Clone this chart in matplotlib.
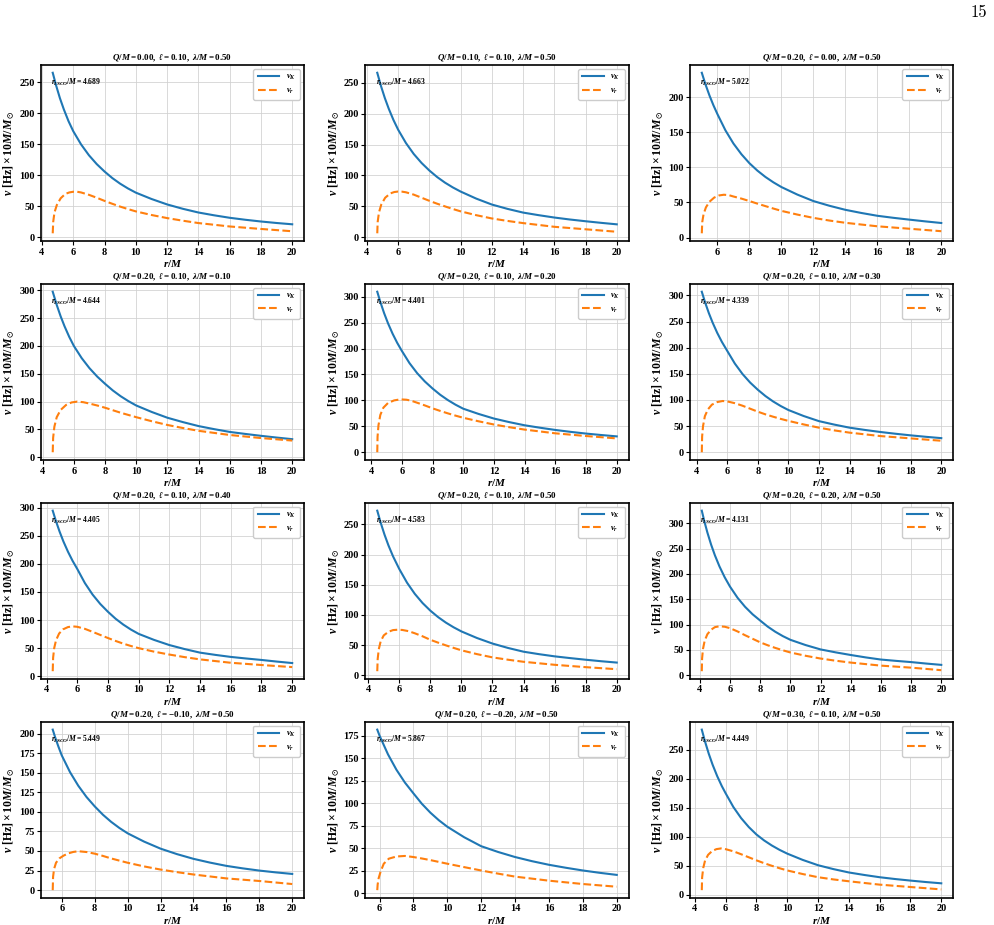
import matplotlib
matplotlib.use('Agg')
import matplotlib.pyplot as plt
from matplotlib.ticker import MultipleLocator

# panel parameters
Q_vals = [0.00, 0.10, 0.20, 0.20, 0.20, 0.20, 0.20, 0.20, 0.20, 0.20, 0.20, 0.30]
ell_vals = [0.10, 0.10, 0.00, 0.10, 0.10, 0.10, 0.10, 0.10, 0.20, -0.10, -0.20, 0.10]
lam_vals = [0.50, 0.50, 0.50, 0.10, 0.20, 0.30, 0.40, 0.50, 0.50, 0.50, 0.50, 0.50]
r_isco = [4.689, 4.663, 5.022, 4.644, 4.401, 4.339, 4.405, 4.583, 4.131, 5.449, 5.867, 4.449]

# Keplerian frequency nu_K
tail = [6, 6.5, 7, 7.5, 8, 8.5, 9, 9.5, 10, 11, 12, 13, 14, 15, 16, 17, 18, 19, 20]
r_kep = [
    [4.689, 4.9, 5.15, 5.4, 5.7] + tail,
    [4.663, 4.9, 5.15, 5.4, 5.7] + tail,
    [5.022, 5.25, 5.5, 5.75] + tail,
    [4.644, 4.9, 5.15, 5.4, 5.7] + tail,
    [4.401, 4.6, 4.85, 5.1, 5.4, 5.7] + tail,
    [4.339, 4.55, 4.8, 5.05, 5.35, 5.65] + tail,
    [4.405, 4.6, 4.85, 5.1, 5.4, 5.7] + tail,
    [4.583, 4.8, 5.05, 5.3, 5.6] + tail,
    [4.131, 4.3, 4.5, 4.75, 5.0, 5.3, 5.65] + tail,
    [5.449, 5.6, 5.8] + tail,
    [5.867] + tail,
    [4.449, 4.65, 4.9, 5.15, 5.45, 5.75] + tail,
]
nu_kep = [
    [265, 245, 224, 206, 187,
     171, 149.7, 132.3, 118, 106, 95.4, 86.4, 78.7, 72, 61.8, 53, 46, 40, 35.5, 31.5, 28.3, 25.5, 23.1, 21],
    [266, 244.7, 225, 207.8, 189.7,
     174, 152.4, 134.7, 120.2, 108, 97.4, 88.4, 80.7, 74, 62.6, 53, 46, 40, 35.8, 32, 28.8, 26, 23.4, 21],
    [235, 218.6, 202.7, 188.6,
     176, 152.9, 134.1, 118.8, 106, 95.4, 86.4, 78.7, 72, 61.2, 52, 45.3, 39.5, 35, 31, 28.1, 25.5, 23, 20.7],
    [297.5, 273.8, 253.4, 235.5, 216.5,
     200, 178.2, 160.1, 144.9, 132, 120, 109.7, 100.8, 93, 81.3, 71, 63.1, 56, 50.5, 45.5, 41.9, 38.5, 35.4, 32.5],
    [309.6, 290, 268.1, 248.8, 228.6, 211,
     195.6, 171.9, 152.5, 136.5, 123, 110.9, 100.6, 91.7, 84, 73.9, 65, 58.1, 52, 47.3, 43, 39.3, 36, 33.2, 30.6],
    [307, 287, 266.1, 247.7, 228.2, 211.2,
     194, 169.6, 149.7, 133.3, 119.6, 107.5, 97.2, 88.4, 80.8, 69.3, 59.5, 52.9, 47, 42.7, 38.8, 35.4, 32.3, 29.5, 27],
    [294.5, 277.2, 257.4, 239.8, 221.4, 205.2,
     191, 165.7, 145.3, 128.6, 114.7, 102.3, 91.9, 83, 75.4, 64.7, 55.5, 48.3, 42, 38, 34.4, 31.6, 29, 26.1, 23.5],
    [272.6, 252.9, 232.9, 215.3, 196.9,
     176, 153.3, 134.8, 119.6, 107, 96.3, 87.2, 79.4, 72.6, 61.7, 52.5, 45.2, 39, 34.9, 31.3, 28.4, 25.7, 23.2, 21],
    [325, 304.1, 282, 257.8, 236.8, 215, 193.4,
     175, 153, 135.1, 120.3, 108, 96, 85.9, 77.3, 70, 59.7, 51, 45.2, 40, 35.2, 31, 28.4, 26, 23.1, 20.5],
    [205, 195, 183,
     172, 150.7, 133.4, 119, 107, 96.3, 87.2, 79.4, 72.6, 62, 53, 46, 40, 35.2, 31, 27.8, 25, 22.7, 20.7],
    [181.6,
     175, 154.2, 137.1, 122.9, 111, 99.4, 89.6, 81.2, 74, 62.3, 52.4, 46, 40.4, 35.8, 31.8, 28.5, 25.5, 22.9, 20.6],
    [285, 265.2, 243.5, 224.5, 204.7, 187.5,
     175, 151.4, 132.4, 116.9, 104, 93.7, 85, 77.5, 71, 60.2, 51, 44.3, 38.5, 34.2, 30.3, 27.2, 24.5, 22, 19.8],
]

# radial epicyclic frequency nu_r
r_rad = [
    [4.689, 4.72, 4.8, 4.95, 5.2, 5.5, 5.75, 6, 6.25, 6.5, 7, 7.5, 8, 8.5, 9, 9.5, 10, 11, 12, 13, 14, 16, 18, 20],
    [4.663, 4.69, 4.77, 4.92, 5.17, 5.5, 5.75, 6, 6.25, 6.5, 7, 7.5, 8, 8.5, 9, 9.5, 10, 11, 12, 13, 14, 16, 18, 20],
    [5.022, 5.05, 5.13, 5.28, 5.5, 5.8, 6.1, 6.4, 6.7, 7, 7.5, 8, 8.5, 9, 9.5, 10, 11, 12, 13, 14, 16, 18, 20],
    [4.644, 4.67, 4.75, 4.9, 5.15, 5.5, 5.85, 6.2, 6.6, 7, 7.5, 8, 8.5, 9, 9.5, 10, 11, 12, 13, 14, 16, 18, 20],
    [4.401, 4.42, 4.48, 4.6, 4.8, 5.1, 5.5, 5.9, 6.3, 6.6, 7, 7.5, 8, 8.5, 9, 9.5, 10, 11, 12, 13, 14, 16, 18, 20],
    [4.339, 4.36, 4.42, 4.54, 4.74, 5.0, 5.35, 5.7, 6, 6.5, 7, 7.5, 8, 8.5, 9, 9.5, 10, 11, 12, 13, 14, 16, 18, 20],
    [4.405, 4.43, 4.5, 4.62, 4.82, 5.08, 5.4, 5.7, 6, 6.5, 7, 7.5, 8, 8.5, 9, 9.5, 10, 11, 12, 13, 14, 16, 18, 20],
    [4.583, 4.61, 4.68, 4.8, 5.0, 5.3, 5.6, 5.9, 6.2, 6.6, 7, 7.5, 8, 8.5, 9, 9.5, 10, 11, 12, 13, 14, 16, 18, 20],
    [4.131, 4.15, 4.21, 4.32, 4.5, 4.75, 5.0, 5.3, 5.65, 6, 6.5, 7, 7.5, 8, 8.5, 9, 9.5, 10, 11, 12, 13, 14, 16, 18, 20],
    [5.449, 5.47, 5.53, 5.65, 5.85, 6.1, 6.4, 6.7, 7.0, 7.5, 8, 8.5, 9, 9.5, 10, 11, 12, 13, 14, 16, 18, 20],
    [5.867, 5.89, 5.95, 6.06, 6.25, 6.55, 7.0, 7.5, 8, 8.5, 9, 9.5, 10, 11, 12, 13, 14, 16, 18, 20],
    [4.449, 4.47, 4.54, 4.66, 4.86, 5.12, 5.4, 5.7, 6, 6.5, 7, 7.5, 8, 8.5, 9, 9.5, 10, 11, 12, 13, 14, 16, 18, 20],
]
nu_rad = [
    [6.5, 25, 40, 52, 63, 70, 72.3, 73.4, 73.4, 72.3, 68.5, 63.8, 58.7, 54, 49.5, 45.5, 41.8, 36, 31, 26.8, 23, 17.5, 13.5, 9.8],
    [6.5, 25, 40, 53, 64, 71, 73.2, 74, 73.8, 72.8, 69, 64, 59, 54.3, 50, 45.8, 42, 35.8, 30.5, 26.5, 23, 17, 13, 9],
    [6, 22, 33, 43, 51, 57, 60, 61, 60.5, 58.5, 55.5, 52, 48.3, 44.8, 41.3, 38, 32.7, 28, 24.2, 21, 16, 12.5, 9],
    [9, 35, 55, 72, 85, 94, 98.5, 100, 99, 96.5, 93, 89, 84.5, 80, 76, 72, 64.7, 58, 52.5, 47.5, 40, 34.5, 30],
    [0, 30, 52, 72, 86, 95, 100, 102, 101.3, 99.5, 95.5, 90.3, 84.7, 79.7, 75, 70.6, 66.5, 59.7, 53.5, 48.3, 43.7, 36.5, 31.3, 26.7],
    [0, 30, 50, 69, 82, 91, 96, 98, 97.3, 93.8, 89, 83.3, 77.6, 72.5, 68, 63.8, 60, 53.2, 47, 41.8, 37.5, 31, 26.5, 22],
    [9, 33, 50, 64, 76, 83.5, 87.5, 88.7, 88, 84.3, 79, 73.5, 68, 62.8, 58, 53.8, 50, 43.8, 38.6, 34, 30, 24, 20, 16.3],
    [6.7, 27, 43, 56, 66, 72, 74.8, 75.4, 75, 73, 69.5, 64.5, 58.7, 54, 49.5, 45.3, 41.3, 35, 29.6, 25.7, 22.3, 17.3, 13.4, 10],
    [8, 33, 52, 68, 81, 90, 95, 96.7, 95.8, 93, 86.5, 79, 72, 65, 59.2, 54, 49.3, 45, 38.5, 33, 28.7, 25, 19, 15, 10],
    [0, 17, 27, 35, 40.5, 44, 47, 48.8, 49.7, 48.7, 46.6, 43.7, 40.5, 37.7, 35, 30.3, 26.3, 23, 20, 15, 11.7, 7.8],
    [3.7, 10, 17, 24, 33, 38.6, 41, 41.6, 40.4, 38.8, 37, 35, 33, 29.2, 25.5, 22, 18.7, 14.2, 10.5, 7.5],
    [8, 30, 46, 59, 69, 75.5, 78.8, 80, 78.7, 75, 70, 64.7, 59.4, 54.5, 50, 45.8, 42, 35.8, 30.3, 26.5, 23.3, 17.5, 13.4, 9.3],
]
y_step = [50, 50, 50, 50, 50, 50, 50, 50, 50, 25, 25, 50]

plt.rcParams['font.family'] = ['Liberation Serif', 'DejaVu Serif']
plt.rcParams['font.weight'] = 'bold'
plt.rcParams['axes.labelweight'] = 'bold'
plt.rcParams['mathtext.fontset'] = 'custom'
plt.rcParams['mathtext.rm'] = 'Liberation Serif:bold'
plt.rcParams['mathtext.it'] = 'Liberation Serif:italic:bold'
plt.rcParams['mathtext.bf'] = 'Liberation Serif:bold'
plt.rcParams['mathtext.fallback'] = 'stix'

fig, axes = plt.subplots(4, 3, figsize=(9.94, 9.25), dpi=100)
fig.subplots_adjust(left=0.041, right=0.959, top=0.93, bottom=0.029,
                    wspace=0.232, hspace=0.24)

for i, ax in enumerate(axes.flat):
    ax.plot(r_kep[i], nu_kep[i], color='#1f77b4', lw=1.5, label=r'$\nu_K$')
    ax.plot(r_rad[i], nu_rad[i], color='#ff7f0e', lw=1.5, ls='--', label=r'$\nu_r$')
    ax.set_title(rf'$Q/M={Q_vals[i]:.2f},\ \ell={ell_vals[i]:.2f},\ \lambda/M={lam_vals[i]:.2f}$',
                 fontsize=6.5, pad=3)
    ax.text(0.04, 0.9, rf'$r_{{ISCO}}/M={r_isco[i]:.3f}$', transform=ax.transAxes,
            fontsize=5.5, va='center')
    ax.set_xlabel(r'$r/M$', fontsize=8, labelpad=1)
    ax.set_ylabel(r'$\nu\ [\mathrm{Hz}]\times 10M/M_\odot$', fontsize=8.5, labelpad=2)
    lo = 4 if r_isco[i] < 5 else 6
    ax.set_xticks(range(lo, 21, 2))
    ax.yaxis.set_major_locator(MultipleLocator(y_step[i]))
    ax.tick_params(labelsize=7.5, length=3, width=0.8, pad=1.5)
    for lab in ax.get_xticklabels() + ax.get_yticklabels():
        lab.set_fontweight('bold')
    ax.grid(True, color='#d0d0d0', lw=0.7, alpha=0.8)
    for sp in ax.spines.values():
        sp.set_linewidth(1.2)
    ax.legend(loc='upper right', fontsize=6, handlelength=2.6, borderpad=0.5,
              labelspacing=0.5, framealpha=1, edgecolor='#cccccc', fancybox=True)

fig.text(0.993, 0.995, '15', ha='right', va='top', fontsize=12, family='cmr10', weight='normal')

fig.savefig('out.png', dpi=100)
